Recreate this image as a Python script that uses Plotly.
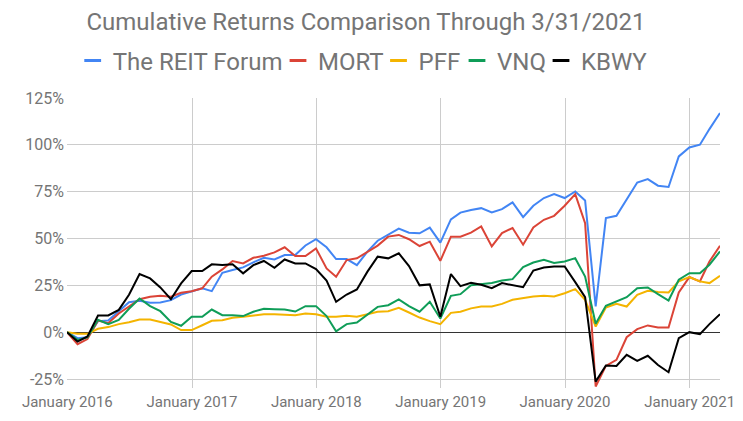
import pandas as pd
import plotly.graph_objects as go

# Month-end dates: 12/31/2015 through 3/31/2021 (64 points)
dates = pd.date_range("2015-12-31", periods=64, freq="ME")

reit_forum = [0, -3.2, -2.7, 5.9, 6.2, 11.4, 16, 16.8, 15.7, 15.9, 17.1, 20.1, 21.9, 23.4, 21.9, 31.7,
              33.2, 34.6, 37.3, 39.7, 38.8, 41.2, 41.2, 46.3, 49.6, 45.3, 39, 39, 35.8, 43, 48.8, 52.2,
              55.3, 53.1, 52.8, 55.8, 47.8, 60.2, 63.8, 65.2, 66.2, 63.9, 65.7, 69.3, 61.4, 67.5, 71.6, 73.7,
              71.6, 75.1, 70.3, 13.7, 60.9, 62.1, 71, 79.9, 81.7, 78.2, 77.5, 93.8, 98.6, 100.1, 108.4, 117]
mort = [0, -6.4, -3.7, 6.2, 4.8, 10, 13.7, 17.6, 18.9, 19.4, 18.9, 21, 21.9, 23.4, 29.6, 33.5,
        38, 36.7, 39.7, 40.8, 42.6, 45.3, 40.6, 40.6, 44.7, 34, 29.6, 38.5, 39.4, 43, 46.2, 51,
        51.9, 49.6, 46, 48.3, 38.1, 51, 51, 53.1, 56.4, 45.8, 52.9, 55.6, 46.7, 55.9, 60, 62.1,
        67.5, 73.7, 58.2, -29, -18, -14.8, -2.7, 1.6, 3.6, 2.5, 2.5, 21.2, 29.4, 27.1, 37.7, 46.1]
pff = [0, -0.9, -0.9, 1.8, 2.7, 4.3, 5.3, 6.8, 6.8, 5.5, 4.1, 1.1, 1.1, 3.7, 6.1, 6.4,
       7.7, 8.2, 8.9, 9.6, 9.6, 9.4, 9.1, 10, 9.6, 8.2, 8.2, 8.7, 8.2, 9.6, 10.9, 11.2,
       13, 10.5, 7.8, 5.9, 4.3, 10.3, 10.9, 12.7, 13.7, 13.7, 15.1, 17.3, 18.2, 19.1, 19.4, 19.1,
       20.8, 23, 17.3, 3, 13.2, 15.1, 13.7, 19.9, 22.1, 21.4, 21.2, 27.1, 29.4, 27.1, 26.2, 30.1]
vnq = [0, -4.1, -2.8, 6.6, 4.3, 6.6, 12.5, 18, 13.9, 11.2, 5.5, 3.4, 8.2, 8.2, 12.1, 9.1,
       9.1, 8.6, 10.9, 12.5, 12.3, 12.1, 11, 13.9, 13.9, 8.6, 0.5, 4.3, 5.2, 9.6, 13.5, 14.4,
       17.5, 13.9, 10.9, 16.2, 7.3, 19.4, 20.3, 25.1, 25.8, 26.2, 27.6, 28.3, 34.7, 37.2, 38.6, 36.9,
       37.7, 39.5, 29.7, 4.5, 14.1, 16.4, 18.7, 23.5, 23.9, 20.3, 16.9, 28, 31.5, 31.5, 36, 43.1]
kbwy = [0, -5, -2.3, 8.9, 8.9, 11.9, 20, 31, 28.7, 23.9, 17.6, 26, 32.6, 32.6, 36.2, 35.8,
        36.2, 31.4, 35.8, 38, 34.4, 38.8, 36.7, 36.7, 33.7, 27.5, 16.2, 20.1, 22.8, 32.3, 40.3, 39.4,
        42.1, 35.3, 25, 25.5, 8.2, 31, 24.6, 26.4, 25.3, 23.5, 26.2, 25.3, 24, 32.9, 34.5, 35.1,
        35.1, 26.7, 18.7, -26.4, -17.8, -18, -12.1, -15.3, -12.6, -17.5, -21.4, -3.2, 0, -1.1, 4.3, 9.6]

series_names = ["The REIT Forum", "MORT", "PFF", "VNQ", "KBWY"]
series_values = [reit_forum, mort, pff, vnq, kbwy]
colors = ["#4285F4", "#DB4437", "#F4B400", "#0F9D58", "#000000"]

y_ticks = [-25, 0, 25, 50, 75, 100, 125]
y_tick_labels = ["-25%", "0%", "25%", "50%", "75%", "100%", "125%"]
x_ticks = ["2016-01-01", "2017-01-01", "2018-01-01", "2019-01-01", "2020-01-01", "2021-01-01"]
x_tick_labels = ["January 2016", "January 2017", "January 2018", "January 2019",
                 "January 2020", "January 2021"]

GRAY = "#757575"
W, H = 735, 413  # page body has an 8px margin
# left edge (px) of each legend entry's label text
legend_text_x = [102.7, 308.0, 408.5, 487.0, 571.0]

fig = go.Figure()

for name, vals, col in zip(series_names, series_values, colors):
    fig.add_trace(go.Scatter(x=dates, y=vals, mode="lines", name=name,
                             line=dict(color=col, width=2), showlegend=False,
                             legendgroup=name))

legend_keys = ["legend", "legend2", "legend3", "legend4", "legend5"]
legend_layout = {}
for key, name, col, tx in zip(legend_keys, series_names, colors, legend_text_x):
    fig.add_trace(go.Scatter(x=[None], y=[None], mode="markers", name=name,
                             legendgroup=name, legend=key,
                             marker=dict(symbol="line-ew", size=12,
                                         line=dict(color=col, width=3))))
    legend_layout[key] = dict(
        orientation="h", x=(tx - 38) / W, xref="container", xanchor="left",
        y=1 - 53 / H, yref="container", yanchor="middle",
        font=dict(family="Roboto", size=24, color=GRAY),
        itemwidth=30, bgcolor="rgba(0,0,0,0)", borderwidth=0)

fig.update_layout(
    width=W, height=H,
    margin=dict(l=59, r=23, t=90, b=33, autoexpand=False),
    paper_bgcolor="white", plot_bgcolor="white",
    font=dict(family="Roboto", color=GRAY, size=15),
    title=dict(text="Cumulative Returns Comparison Through 3/31/2021",
               font=dict(family="Roboto", size=24, color=GRAY),
               x=358 / W, xref="container", xanchor="center",
               y=1 - 14 / H, yref="container", yanchor="middle"),
    showlegend=True,
    **legend_layout,
)

fig.update_xaxes(
    type="date", range=["2015-12-31", "2021-03-31"],
    tickvals=x_ticks, ticktext=x_tick_labels,
    showgrid=True, gridcolor="#cccccc", gridwidth=1,
    ticks="", ticklabelstandoff=3, automargin=False,
    showline=False, zeroline=False,
    tickfont=dict(family="Roboto", size=15, color=GRAY),
)
fig.update_yaxes(
    range=[-29.8, 125], tickvals=y_ticks, ticktext=y_tick_labels,
    showgrid=True, gridcolor="#cccccc", gridwidth=1,
    zeroline=True, zerolinecolor="#333333", zerolinewidth=1,
    showline=False, ticks="", ticklabelstandoff=2, automargin=False,
    tickfont=dict(family="Roboto", size=16, color=GRAY),
)

# right frame edge of the chart image
fig.add_shape(type="line", xref="paper", yref="paper",
              x0=1.0317, x1=1.0317, y0=-0.2, y1=1.4,
              line=dict(color="#9e9e9e", width=2))

fig.write_html("out.html")
